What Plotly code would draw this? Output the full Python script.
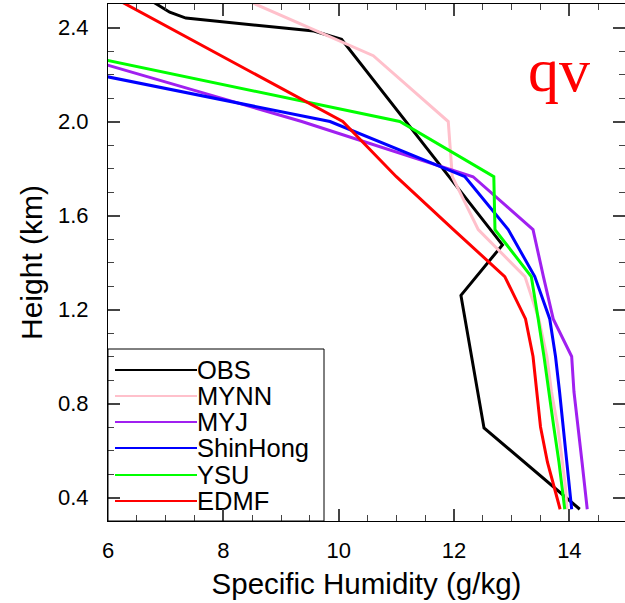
import plotly.graph_objects as go

# Model levels (km) shared by the simulated profiles
levels = [0.35, 0.45, 0.55, 0.70, 0.85, 1.00, 1.16, 1.34, 1.54, 1.765, 2.00, 2.28, 2.60]

# Specific humidity (g/kg) per PBL scheme
mynn = [13.96, 13.93, 13.88, 13.80, 13.69, 13.61, 13.47, 13.23, 12.42, 11.97, 11.90, 10.60, 7.62]
myj = [14.31, 14.27, 14.22, 14.15, 14.08, 14.04, 13.72, 13.55, 13.37, 12.33, 9.36, 5.43, None]
shinhong = [14.04, 14.00, 13.96, 13.90, 13.83, 13.76, 13.66, 13.40, 12.94, 12.19, 9.85, 4.17, None]
ysu = [13.92, 13.87, 13.82, 13.73, 13.65, 13.56, 13.46, 13.34, 12.71, 12.69, 11.06, 5.60, None]
edmf = [13.84, 13.73, 13.62, 13.50, 13.44, 13.37, 13.24, 12.88, 11.99, 11.00, 10.07, 7.96, 5.55]

# Observed sounding
obs_height = [0.35, 0.696, 1.26, 1.475, 2.35, 2.385, 2.44, 2.465, 2.50, 2.53]
obs_qv = [14.18, 12.52, 12.12, 12.84, 10.05, 9.57, 7.35, 7.07, 6.84, 6.64]

series_names = ["OBS", "MYNN", "MYJ", "ShinHong", "YSU", "EDMF"]
series_colors = ["#000000", "#FFC0CB", "#A020F0", "#0000FF", "#00FF00", "#FF0000"]

W, H = 625, 603
ML, MR, MT, MB = 108, 0, 4, 82
PW, PH = W - ML - MR, H - MT - MB
X_RANGE = [6, 6 + PW / 57.67]
Y_RANGE = [0.3, 2.5]

fig = go.Figure()

profiles = [(obs_qv, obs_height), (mynn, levels), (myj, levels),
            (shinhong, levels), (ysu, levels), (edmf, levels)]
for name, color, (xv, yv) in zip(series_names, series_colors, profiles):
    fig.add_trace(go.Scatter(x=xv, y=yv, mode="lines", name=name,
                             line=dict(color=color, width=3),
                             showlegend=False, connectgaps=False))

def px_x(p):
    return (p - ML) / PW

def px_y(p):
    return (H - MB - p) / PH

# Legend box in the lower-left corner: sample lines as shapes, labels as text
shapes = [dict(type="rect", xref="paper", yref="paper",
               x0=0, x1=px_x(324), y0=0, y1=px_y(349),
               line=dict(color="black", width=1), fillcolor="rgba(0,0,0,0)")]
row_y = [370, 396, 422, 448, 475, 501]
for color, ry in zip(series_colors, row_y):
    shapes.append(dict(type="line", xref="paper", yref="paper",
                       x0=px_x(115), x1=px_x(197), y0=px_y(ry), y1=px_y(ry),
                       line=dict(color=color, width=2)))

label_x = [X_RANGE[0] + px_x(197) * (X_RANGE[1] - X_RANGE[0])] * len(row_y)
label_y = [Y_RANGE[0] + px_y(ry + 2.5) * (Y_RANGE[1] - Y_RANGE[0]) for ry in row_y]
fig.add_trace(go.Scatter(x=label_x, y=label_y, mode="text", text=series_names,
                         textposition="middle right", showlegend=False,
                         hoverinfo="skip", cliponaxis=False,
                         textfont=dict(family="Liberation Sans", size=25.5, color="black")))

annotations = [dict(xref="paper", yref="paper", x=px_x(559), y=px_y(70),
                    text="qv", showarrow=False, xanchor="center", yanchor="middle",
                    font=dict(family="Liberation Serif", size=62, color="#FF0000"))]

axis_common = dict(showgrid=False, zeroline=False, showline=True, linecolor="black",
                   linewidth=1, mirror="ticks", ticks="inside", ticklen=12,
                   tickwidth=1.5, tickcolor="#444444",
                   tickfont=dict(family="Liberation Sans", size=22, color="black"))

fig.update_layout(
    width=W, height=H,
    margin=dict(l=ML, r=MR, t=MT, b=MB, pad=0),
    paper_bgcolor="white", plot_bgcolor="white",
    font=dict(family="Liberation Sans", color="black"),
    shapes=shapes, annotations=annotations,
    xaxis=dict(range=X_RANGE, tick0=6, dtick=2,
               minor=dict(ticks="inside", ticklen=6, dtick=0.5, tick0=6,
                          tickcolor="#444444", tickwidth=1.2),
               ticklabelstandoff=10,
               title=dict(text="Specific Humidity (g/kg)", standoff=10,
                          font=dict(family="Liberation Sans", size=29.5, color="black")),
               **axis_common),
    yaxis=dict(range=Y_RANGE, tick0=0.4, dtick=0.4, tickformat=".1f",
               minor=dict(ticks="inside", ticklen=6, dtick=0.1, tick0=0.3,
                          tickcolor="#444444", tickwidth=1.2),
               ticklabelstandoff=14,
               title=dict(text="Height (km)", standoff=6,
                          font=dict(family="Liberation Sans", size=30, color="black")),
               **axis_common),
)

fig.write_html("out.html")
